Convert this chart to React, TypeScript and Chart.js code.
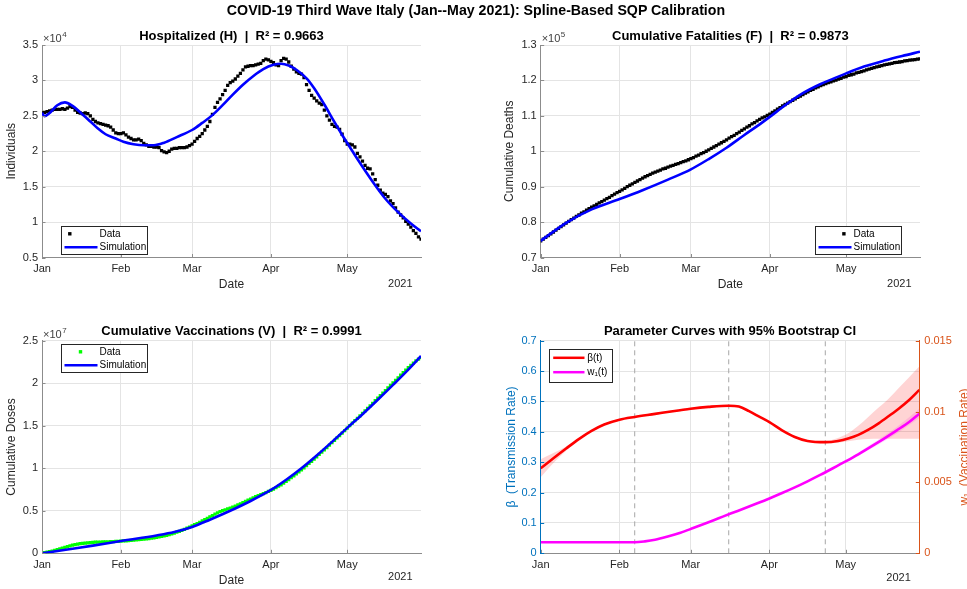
import React, { useEffect, useRef } from 'react';
import { Chart, registerables } from 'chart.js';

Chart.register(...registerables);

const FONT = '"Liberation Sans", Arial, Helvetica, sans-serif';
const AX = '#262626';
const GRID = '#e4e4e4';
const AXLINE = '#8c8c8c';
const BLUE_AX = '#0072BD';
const ORANGE_AX = '#D95319';

Chart.defaults.font.family = FONT;
Chart.defaults.color = AX;

// ---------- shared x axis ----------
const MONTH_TICKS = [0, 31, 59, 90, 120];
const MONTH_LABELS = ['Jan', 'Feb', 'Mar', 'Apr', 'May'];
const DAY_MAX = 149;
const YEAR_LABEL = '2021';

// ---------- Hospitalized (thousands), daily from Jan 1 ----------
const H_DATA = [
  25.4, 25.5, 25.6, 25.7, 25.8, 25.9, 25.9, 25.9, 26.0, 25.9, 26.1,
  26.3, 26.2, 25.8, 25.5, 25.4, 25.3, 25.4, 25.3, 25.0, 24.5,
  24.2, 24.0, 23.9, 23.8, 23.7, 23.6, 23.4, 23.0, 22.6, 22.5,
  22.5, 22.6, 22.3, 22.0, 21.8, 21.6, 21.6, 21.7, 21.5, 21.1,
  20.9, 20.7, 20.7, 20.6, 20.6, 20.5, 20.1, 19.9, 19.8, 20.0,
  20.3, 20.4, 20.4, 20.5, 20.5, 20.5, 20.6, 20.8, 21.0, 21.4,
  21.8, 22.1, 22.5, 23.0, 23.5, 24.2, 25.2, 26.2, 26.9, 27.4,
  28.0, 28.6, 29.3, 29.7, 29.9, 30.2, 30.6, 31.0, 31.5, 31.9,
  32.0, 32.1, 32.1, 32.2, 32.3, 32.4, 32.8, 33.0, 32.9, 32.7,
  32.5, 32.2, 32.1, 32.8, 33.1, 33.0, 32.6, 32.0, 31.6, 31.2,
  31.0, 30.9, 30.4, 29.4, 28.6, 27.9, 27.5, 27.1, 26.8, 26.6,
  25.8, 25.0, 24.4, 23.8, 23.5, 23.4, 23.1, 22.4, 21.5, 21.0,
  21.0, 20.9, 20.6, 19.7, 19.2, 18.6, 18.0, 17.6, 17.5, 16.8,
  16.0, 15.2, 14.5, 14.1, 13.9, 13.6, 13.0, 12.6, 12.0, 11.4,
  11.0, 10.6, 10.1, 9.7, 9.3, 8.8, 8.4, 7.9, 7.6,
];
const H_SIM_DAYS = [0, 1, 3, 6, 9, 12, 15, 19, 22, 25, 29, 32, 36, 40, 44, 48, 53, 59, 63, 67, 71, 75, 79, 83, 87, 91, 94, 97, 100, 104, 107, 111, 115, 118, 121, 124, 130, 135, 140, 145, 149];
const H_SIM = [25.45, 24.95, 25.4, 26.5, 26.9, 26.4, 25.5, 24.2, 23.2, 22.4, 21.8, 21.35, 21.0, 20.85, 20.85, 21.2, 22.0, 23.0, 24.0, 25.1, 26.5, 28.0, 29.4, 30.6, 31.6, 32.2, 32.35, 32.1, 31.5, 30.3, 28.9, 26.6, 24.1, 22.3, 20.6, 18.9, 15.7, 13.3, 11.4, 9.8, 8.7];
const H_TICKS = [5, 10, 15, 20, 25, 30, 35];

// ---------- Cumulative fatalities (thousands) ----------
const F_DATA = [
  74.7, 75.2, 75.7, 76.2, 76.7, 77.2, 77.7, 78.2, 78.7, 79.2,
  79.7, 80.2, 80.7, 81.1, 81.6, 82.0, 82.5, 82.9, 83.4, 83.8,
  84.2, 84.6, 85.0, 85.4, 85.8, 86.2, 86.6, 87.0, 87.5, 87.9,
  88.3, 88.7, 89.1, 89.5, 90.0, 90.4,
  90.8, 91.2, 91.6, 92.0, 92.4,
  92.8, 93.1, 93.5, 93.8, 94.1,
  94.4, 94.7, 95.0, 95.2, 95.5,
  95.8, 96.0, 96.3, 96.5, 96.8,
  97.1, 97.3, 97.6, 97.9,
  98.2, 98.6, 98.9, 99.3, 99.6, 100.0,
  100.4, 100.8, 101.2, 101.6, 102.0,
  102.4, 102.8, 103.2, 103.7, 104.1,
  104.5, 105.0, 105.4, 105.9, 106.3,
  106.8, 107.2, 107.7, 108.1, 108.6,
  109.0, 109.4, 109.7, 110.1, 110.5,
  111.0, 111.4, 111.9, 112.3, 112.8,
  113.2, 113.6, 114.0, 114.4, 114.8,
  115.2, 115.6, 116.0, 116.4, 116.8,
  117.2, 117.5, 117.9, 118.2, 118.5,
  118.8, 119.1, 119.4, 119.6, 119.9,
  120.1, 120.4, 120.6, 120.9, 121.1,
  121.4, 121.6, 121.8, 122.1, 122.3,
  122.5, 122.7, 123.0, 123.2, 123.4,
  123.6, 123.8, 124.0, 124.2, 124.4,
  124.5, 124.7, 124.8, 125.0, 125.1,
  125.2, 125.3, 125.5, 125.6, 125.7,
  125.8, 125.9, 126.0, 126.1,
];
const F_SIM_DAYS = [0, 10, 20, 31, 40, 50, 59, 66, 73, 80, 86, 90, 96, 103, 110, 115, 120, 127, 135, 142, 149];
const F_SIM = [74.7, 79.8, 83.6, 86.5, 89.0, 92.0, 94.9, 97.8, 101.0, 104.6, 107.6, 109.7, 113.0, 116.4, 119.0, 120.5, 122.0, 123.9, 125.6, 126.9, 128.1];
const F_TICKS = [70, 80, 90, 100, 110, 120, 130];

// ---------- Cumulative vaccinations (millions) ----------
const V_DATA = [
  0.05, 0.09, 0.14, 0.2, 0.27, 0.35, 0.43, 0.52, 0.61, 0.7,
  0.79, 0.88, 0.96, 1.03, 1.09, 1.14, 1.18, 1.21, 1.24, 1.26,
  1.28, 1.3, 1.31, 1.32, 1.33, 1.34, 1.35, 1.36, 1.37, 1.39,
  1.41, 1.43, 1.45, 1.47, 1.49, 1.51, 1.54, 1.57, 1.6, 1.63,
  1.66, 1.7, 1.74, 1.78, 1.82, 1.87, 1.92, 1.98, 2.04, 2.11,
  2.19, 2.28, 2.38, 2.48, 2.59, 2.7, 2.82, 2.95, 3.08, 3.22,
  3.36, 3.5, 3.65, 3.8, 3.96, 4.12, 4.28, 4.44, 4.6, 4.75,
  4.89, 5.01, 5.12, 5.22, 5.32, 5.43, 5.55, 5.68, 5.82, 5.96,
  6.1, 6.24, 6.38, 6.52, 6.66, 6.78, 6.9, 7.02, 7.14, 7.27,
  7.4, 7.56, 7.72, 7.89, 8.06, 8.25, 8.45, 8.67, 8.89, 9.11,
  9.34, 9.57, 9.81, 10.06, 10.31, 10.56, 10.82, 11.08, 11.35, 11.62,
  11.89, 12.16, 12.44, 12.72, 13.0, 13.28, 13.56, 13.85, 14.14, 14.43,
  14.72, 15.01, 15.3, 15.59, 15.88, 16.17, 16.46, 16.75, 17.04, 17.34,
  17.64, 17.94, 18.24, 18.54, 18.84, 19.14, 19.44, 19.74, 20.04, 20.34,
  20.64, 20.94, 21.24, 21.53, 21.82, 22.1, 22.37, 22.62, 22.83, 23.0,
];
const V_SIM_DAYS = [0, 10, 20, 31, 45, 52, 59, 66, 74, 82, 90, 96, 102, 108, 114, 120, 126, 132, 138, 144, 149];
const V_SIM = [0.0, 0.45, 0.9, 1.45, 2.1, 2.5, 3.1, 3.95, 5.0, 6.15, 7.45, 8.65, 10.0, 11.5, 13.1, 14.75, 16.35, 18.05, 19.8, 21.6, 23.2];
const V_TICKS = [0, 5, 10, 15, 20, 25];

// ---------- Parameter curves ----------
const BETA_DAYS = [0, 5, 10, 15, 20, 25, 31, 37, 45, 52, 59, 66, 74, 78, 82, 86, 90, 95, 100, 105, 112, 117, 121, 125, 129, 133, 137, 141, 145, 149];
const BETA = [0.28, 0.313, 0.345, 0.376, 0.403, 0.424, 0.44, 0.449, 0.459, 0.468, 0.476, 0.482, 0.486, 0.483, 0.468, 0.45, 0.432, 0.405, 0.383, 0.37, 0.366, 0.37, 0.378, 0.39, 0.407, 0.428, 0.452, 0.477, 0.505, 0.538];
const BETA_LO = [0.25, 0.297, 0.338, 0.372, 0.4, 0.421, 0.437, 0.446, 0.456, 0.465, 0.473, 0.479, 0.483, 0.48, 0.465, 0.447, 0.429, 0.402, 0.38, 0.367, 0.362, 0.364, 0.369, 0.374, 0.376, 0.377, 0.377, 0.377, 0.377, 0.377];
const BETA_HI = [0.31, 0.33, 0.352, 0.38, 0.406, 0.427, 0.443, 0.452, 0.462, 0.471, 0.479, 0.485, 0.489, 0.486, 0.471, 0.453, 0.435, 0.408, 0.386, 0.373, 0.37, 0.38, 0.395, 0.42, 0.45, 0.48, 0.51, 0.545, 0.58, 0.615];
const W_DAYS = [0, 10, 20, 30, 37, 41, 45, 50, 55, 60, 65, 70, 75, 80, 85, 90, 95, 100, 105, 110, 115, 120, 125, 130, 135, 140, 145, 149];
const W1 = [0.00078, 0.00078, 0.00078, 0.00078, 0.00078, 0.00084, 0.00095, 0.00118, 0.00145, 0.00178, 0.00212, 0.00247, 0.00282, 0.00316, 0.00351, 0.00387, 0.00425, 0.00465, 0.00508, 0.00553, 0.006, 0.00648, 0.00698, 0.00752, 0.00808, 0.00866, 0.00926, 0.00985];
const W_CI_DAYS = [110, 120, 130, 140, 149];
const W1_LO = [0.00551, 0.00641, 0.00737, 0.00843, 0.00955];
const W1_HI = [0.00555, 0.00656, 0.0077, 0.0089, 0.0102];
const KNOT_DAYS = [37, 74, 112];
const BETA_TICKS = [0, 0.1, 0.2, 0.3, 0.4, 0.5, 0.6, 0.7];
const W_TICKS = [0, 0.005, 0.01, 0.015];

// ---------- helpers ----------
const xy = (xs: number[], ys: number[]) => ys.map((y, i) => ({ x: xs[i], y }));
const daily = (ys: number[]) => ys.map((y, i) => ({ x: i, y }));

function xScale(height: number) {
  return {
    type: 'linear',
    min: 0,
    max: DAY_MAX,
    afterBuildTicks: (s: any) => { s.ticks = MONTH_TICKS.map((v) => ({ value: v })); },
    afterFit: (s: any) => { s.height = height; },
    ticks: {
      autoSkip: false, maxRotation: 0, minRotation: 0, padding: 5, color: AX, font: { size: 11 },
      callback: (v: number) => { const i = MONTH_TICKS.indexOf(v); return i >= 0 ? MONTH_LABELS[i] : ''; },
    },
    grid: { color: GRID, drawTicks: false },
    border: { color: AXLINE, width: 1 },
  };
}

function yScale(ticks: number[], fmt: (v: number) => string, width: number, opts: any = {}) {
  const pos = opts.position || 'left';
  return {
    type: 'linear',
    position: pos,
    min: ticks[0],
    max: ticks[ticks.length - 1],
    afterBuildTicks: (s: any) => { s.ticks = ticks.map((v) => ({ value: v })); },
    afterFit: (s: any) => { s.width = width; },
    ticks: { padding: pos === 'left' ? 4 : 5, color: opts.color || AX, font: { size: 11 }, callback: (v: number) => fmt(v) },
    grid: { color: GRID, drawTicks: false, drawOnChartArea: opts.grid !== false },
    border: { color: opts.border || AXLINE, width: 1 },
  };
}

const decorPlugin = {
  id: 'decor',
  afterDraw(chart: any, _a: any, o: any) {
    const { ctx, chartArea: ca } = chart;
    const f = (s: number, b = false) => `${b ? 'bold ' : ''}${s}px ${FONT}`;
    const cx = (ca.left + ca.right) / 2;
    const cy = (ca.top + ca.bottom) / 2;
    ctx.save();
    // inward tick marks (MATLAB style)
    Object.values(chart.scales).forEach((s: any) => {
      ctx.strokeStyle = s.options.border.color; ctx.lineWidth = 1;
      ctx.beginPath();
      s.ticks.forEach((t: any) => {
        const p = Math.round(s.getPixelForValue(t.value)) + 0.5;
        if (s.isHorizontal()) { ctx.moveTo(p, ca.bottom); ctx.lineTo(p, ca.bottom - 3.5); }
        else if (s.position === 'left') { ctx.moveTo(ca.left, p); ctx.lineTo(ca.left + 3.5, p); }
        else { ctx.moveTo(ca.right, p); ctx.lineTo(ca.right - 3.5, p); }
      });
      ctx.stroke();
    });
    ctx.textBaseline = 'middle';
    if (o.title) {
      ctx.font = f(13, true); ctx.fillStyle = '#000'; ctx.textAlign = 'center';
      ctx.fillText(o.title, cx, ca.top - 9);
    }
    if (o.exponent) {
      ctx.font = f(11); ctx.fillStyle = '#404040'; ctx.textAlign = 'left';
      ctx.fillText('×10', ca.left + 1, ca.top - 6);
      const w = ctx.measureText('×10').width;
      ctx.font = f(8); ctx.fillText(o.exponent, ca.left + 1.5 + w, ca.top - 10);
    }
    const vlabel = (text: string, x: number, color: string) => {
      ctx.save(); ctx.translate(x, cy); ctx.rotate(-Math.PI / 2);
      ctx.font = f(12); ctx.fillStyle = color; ctx.textAlign = 'center';
      ctx.fillText(text, 0, 0); ctx.restore();
    };
    if (o.yLabel) vlabel(o.yLabel, o.yLabelX, o.yLabelColor || AX);
    if (o.y2Label) vlabel(o.y2Label, o.y2LabelX, o.y2LabelColor || AX);
    if (o.xLabel) {
      ctx.font = f(12); ctx.fillStyle = AX; ctx.textAlign = 'center';
      ctx.fillText(o.xLabel, cx, ca.bottom + 27.5);
    }
    if (o.year) {
      ctx.font = f(11); ctx.fillStyle = AX; ctx.textAlign = 'right';
      ctx.fillText(o.year, ca.right - 8.5, ca.bottom + (o.yearDy || 26));
    }
    const L = o.box;
    if (L) {
      const bx = Math.round(L.fromRight ? ca.right - L.x - L.w : ca.left + L.x) + 0.5;
      const by = Math.round(L.fromBottom ? ca.bottom - L.y - L.h : ca.top + L.y) + 0.5;
      ctx.fillStyle = '#fff'; ctx.fillRect(bx, by, L.w, L.h);
      ctx.strokeStyle = '#262626'; ctx.lineWidth = 1; ctx.strokeRect(bx, by, L.w, L.h);
      L.items.forEach((it: any, i: number) => {
        const ry = by + L.rows[i];
        if (it.kind === 'line') {
          ctx.strokeStyle = it.color; ctx.lineWidth = 2.5; ctx.beginPath();
          ctx.moveTo(bx + L.s0, ry); ctx.lineTo(bx + L.s1, ry); ctx.stroke();
        } else {
          ctx.fillStyle = it.color; ctx.fillRect(bx + it.mx - 1.7, ry - 1.7, 3.4, 3.4);
        }
        ctx.fillStyle = '#000'; ctx.font = f(10); ctx.textAlign = 'left';
        ctx.fillText(it.label, bx + L.tx, ry);
      });
    }
    ctx.restore();
  },
};

function baseOptions(padding: any, scales: any, decor: any) {
  return {
    animation: false,
    responsive: false,
    devicePixelRatio: 1,
    events: [],
    layout: { padding },
    scales,
    plugins: { legend: { display: false }, tooltip: { enabled: false }, title: { display: false }, decor },
  };
}

const simLine = (data: any[], color: string, yAxisID = 'y') => ({
  data, showLine: true, borderColor: color, backgroundColor: color, borderWidth: 2.6,
  pointRadius: 0, cubicInterpolationMode: 'monotone', fill: false, yAxisID,
});
const markers = (data: any[], color: string) => ({
  data, showLine: false, pointStyle: 'rect', pointRadius: 2.3, pointBorderWidth: 0,
  pointBackgroundColor: color, borderWidth: 0, yAxisID: 'y',
});

const legendRows = (items: any[]) => ({ w: 86, h: 28, rows: [7.3, 20.7], s0: 3, s1: 36, tx: 38, items });

function makeH() {
  return {
    type: 'scatter',
    data: {
      datasets: [
        { label: 'Simulation', ...simLine(xy(H_SIM_DAYS, H_SIM), '#0000ff') },
        { label: 'Data', ...markers(daily(H_DATA), '#000000') },
      ],
    },
    options: baseOptions(
      { left: 0, top: 45, right: 62, bottom: 0 },
      { x: xScale(37.5), y: yScale(H_TICKS, (v) => String(v / 10), 42) },
      {
        title: 'Hospitalized (H)  |  R² = 0.9663', exponent: '4', yLabel: 'Individuals', yLabelX: 12,
        xLabel: 'Date', year: YEAR_LABEL,
        box: { x: 19, y: 3.5, fromBottom: true, ...legendRows([
          { label: 'Data', kind: 'marker', color: '#000', mx: 8.3 },
          { label: 'Simulation', kind: 'line', color: '#0000ff' },
        ]) },
      },
    ),
    plugins: [decorPlugin],
  };
}

function makeF() {
  return {
    type: 'scatter',
    data: {
      datasets: [
        { label: 'Simulation', ...simLine(xy(F_SIM_DAYS, F_SIM), '#0000ff') },
        { label: 'Data', ...markers(daily(F_DATA), '#000000') },
      ],
    },
    options: baseOptions(
      { left: 0, top: 45, right: 47, bottom: 0 },
      { x: xScale(37.5), y: yScale(F_TICKS, (v) => String(v / 100), 57.7) },
      {
        title: 'Cumulative Fatalities (F)  |  R² = 0.9873', exponent: '5', yLabel: 'Cumulative Deaths', yLabelX: 27,
        xLabel: 'Date', year: YEAR_LABEL,
        box: { x: 19.3, y: 3.5, fromBottom: true, fromRight: true, ...legendRows([
          { label: 'Data', kind: 'marker', color: '#000', mx: 28.4 },
          { label: 'Simulation', kind: 'line', color: '#0000ff' },
        ]) },
      },
    ),
    plugins: [decorPlugin],
  };
}

function makeV() {
  return {
    type: 'scatter',
    data: {
      datasets: [
        { label: 'Simulation', ...simLine(xy(V_SIM_DAYS, V_SIM), '#0000ff') },
        { label: 'Data', ...markers(daily(V_DATA), '#00ff00') },
      ],
    },
    options: baseOptions(
      { left: 0, top: 45.7, right: 62, bottom: 0 },
      { x: xScale(35.7), y: yScale(V_TICKS, (v) => String(v / 10), 42) },
      {
        title: 'Cumulative Vaccinations (V)  |  R² = 0.9991', exponent: '7', yLabel: 'Cumulative Doses', yLabelX: 12,
        xLabel: 'Date', year: YEAR_LABEL, yearDy: 23.5,
        box: { x: 19, y: 3.3, ...legendRows([
          { label: 'Data', kind: 'marker', color: '#00ff00', mx: 19 },
          { label: 'Simulation', kind: 'line', color: '#0000ff' },
        ]) },
      },
    ),
    plugins: [decorPlugin],
  };
}

function makeP() {
  const knots = KNOT_DAYS.map((d) => ({
    data: [{ x: d, y: BETA_TICKS[0] }, { x: d, y: BETA_TICKS[BETA_TICKS.length - 1] }],
    showLine: true, borderColor: '#a6a6a6', borderWidth: 1, borderDash: [5, 4], pointRadius: 0, yAxisID: 'y',
  }));
  return {
    type: 'scatter',
    data: {
      datasets: [
        { label: 'β(t)', ...simLine(xy(BETA_DAYS, BETA), '#ff0000', 'y') },
        { label: 'w₁(t)', ...simLine(xy(W_DAYS, W1), '#ff00ff', 'y2') },
        { data: xy(BETA_DAYS, BETA_LO), showLine: true, borderWidth: 0, pointRadius: 0, cubicInterpolationMode: 'monotone', fill: false, yAxisID: 'y' },
        { data: xy(BETA_DAYS, BETA_HI), showLine: true, borderWidth: 0, pointRadius: 0, cubicInterpolationMode: 'monotone', fill: '-1', backgroundColor: 'rgba(255,0,0,0.17)', yAxisID: 'y' },
        { data: xy(W_CI_DAYS, W1_LO), showLine: true, borderWidth: 0, pointRadius: 0, cubicInterpolationMode: 'monotone', fill: false, yAxisID: 'y2' },
        { data: xy(W_CI_DAYS, W1_HI), showLine: true, borderWidth: 0, pointRadius: 0, cubicInterpolationMode: 'monotone', fill: '-1', backgroundColor: 'rgba(255,0,255,0.15)', yAxisID: 'y2' },
        ...knots,
      ],
    },
    options: baseOptions(
      { left: 0, top: 45.7, right: 0, bottom: 0 },
      {
        x: xScale(35.7),
        y: yScale(BETA_TICKS, (v) => String(Math.round(v * 10) / 10), 57.7, { color: BLUE_AX, border: BLUE_AX }),
        y2: yScale(W_TICKS, (v) => String(Math.round(v * 1000) / 1000), 47.7, { position: 'right', color: ORANGE_AX, border: ORANGE_AX, grid: false }),
      },
      {
        title: 'Parameter Curves with 95% Bootstrap CI',
        yLabel: 'β  (Transmission Rate)', yLabelX: 29, yLabelColor: BLUE_AX,
        y2Label: 'w₁  (Vaccination Rate)', y2LabelX: 481.5, y2LabelColor: ORANGE_AX,
        year: YEAR_LABEL, yearDy: 25,
        box: { x: 8.3, y: 8.3, w: 63, h: 33, rows: [8.3, 22.7], s0: 3.7, s1: 35, tx: 37.7, items: [
          { label: 'β(t)', kind: 'line', color: '#ff0000' },
          { label: 'w₁(t)', kind: 'line', color: '#ff00ff' },
        ] },
      },
    ),
    plugins: [decorPlugin],
  };
}

function ChartBox({ x, y, w, h, make }: { x: number; y: number; w: number; h: number; make: () => any }) {
  const ref = useRef<HTMLCanvasElement>(null);
  useEffect(() => {
    const c = new Chart(ref.current as HTMLCanvasElement, make());
    return () => c.destroy();
  }, []);
  return <canvas ref={ref} width={w} height={h} style={{ position: 'absolute', left: x, top: y, width: w, height: h }} />;
}

export default function App() {
  return (
    <div style={{ position: 'absolute', left: 0, top: 0, width: 967, height: 589, background: '#fff', overflow: 'hidden' }}>
      <ChartBox x={0} y={0} w={483} h={295} make={makeH} />
      <ChartBox x={483} y={0} w={484} h={295} make={makeF} />
      <ChartBox x={0} y={295} w={483} h={294} make={makeV} />
      <ChartBox x={483} y={295} w={484} h={294} make={makeP} />
      <div style={{ position: 'absolute', left: 0, top: 0, width: 952, textAlign: 'center', font: `bold 14.2px ${FONT}`, lineHeight: '20px', color: '#000' }}>
        COVID-19 Third Wave Italy (Jan--May 2021): Spline-Based SQP Calibration
      </div>
    </div>
  );
}
